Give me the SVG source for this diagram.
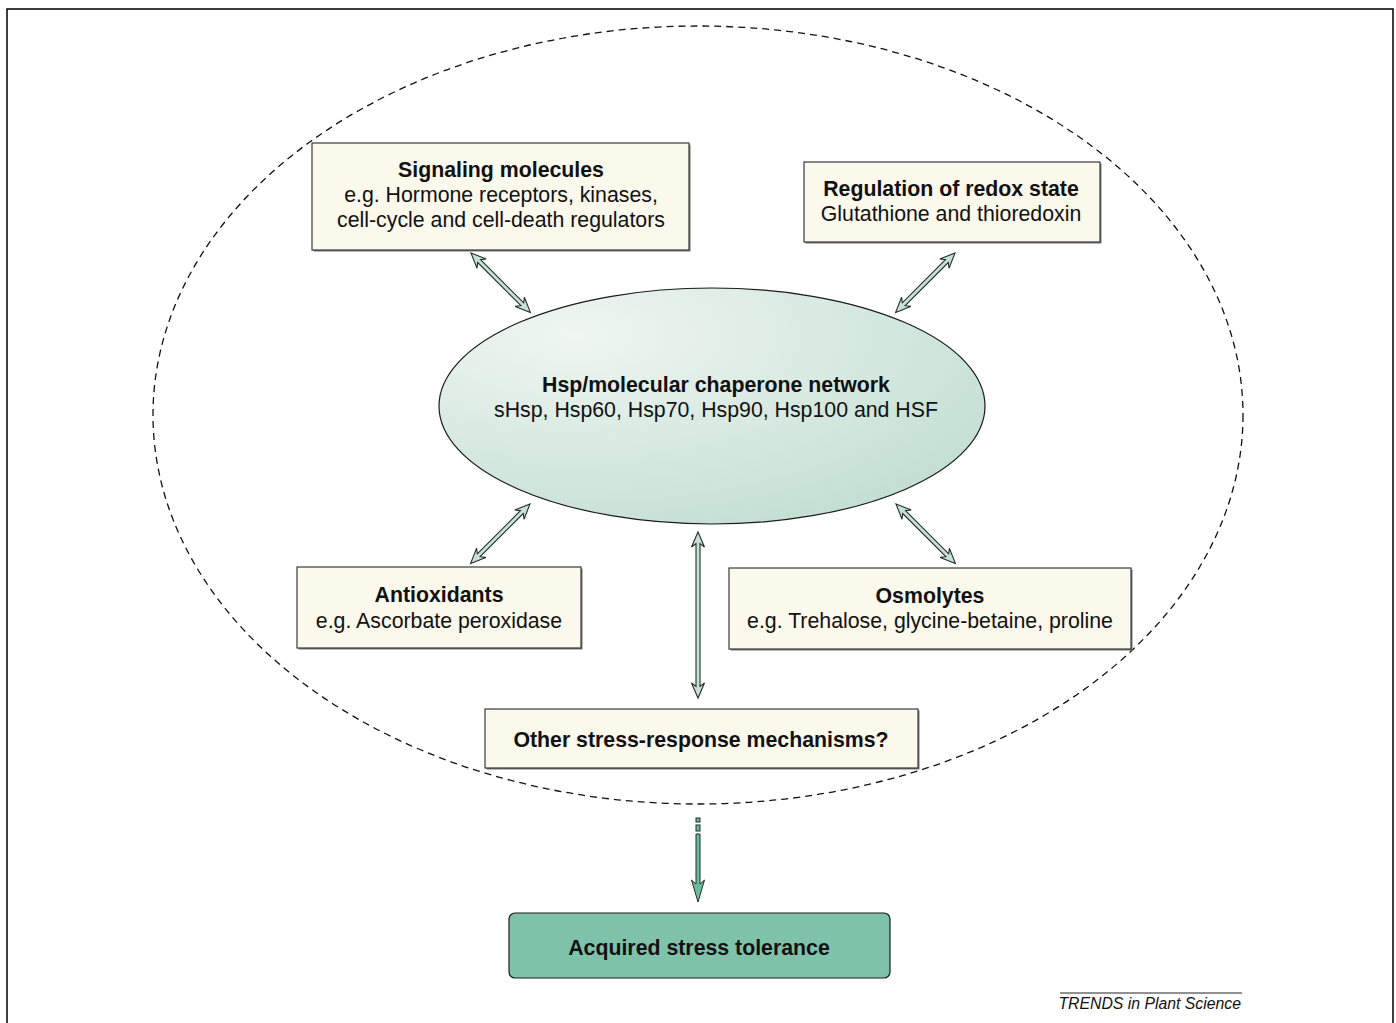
<svg xmlns="http://www.w3.org/2000/svg" xmlns:xlink="http://www.w3.org/1999/xlink" width="1396" height="1023" viewBox="0 0 1396 1023">
<style>
.box{fill:#fbf8ec;stroke:#3a3a3a;stroke-width:1.2}
.shadow{fill:#777}
.t{font-family:"Liberation Sans",Arial,sans-serif;font-size:21.3px;fill:#111;text-anchor:middle}
.b{font-weight:bold}
.arr{fill:#c9e1d5;stroke:#1f2f28;stroke-width:1.1;stroke-linejoin:miter}
</style>
<defs>
<radialGradient id="eg" cx="0.25" cy="0.2" r="0.9">
<stop offset="0" stop-color="#f0f6f2"/>
<stop offset="1" stop-color="#c3dfd2"/>
</radialGradient>
<path id="dbl84" d="M0,0 L15,-6.5 L11.5,-2 L72.5,-2 L69,-6.5 L84,0 L69,6.5 L72.5,2 L11.5,2 L15,6.5 Z"/>
</defs>
<rect width="1396" height="1023" fill="#fff"/>
<polyline points="7,1023 7,9 1393,9 1393,1023" fill="none" stroke="#000" stroke-width="1.5"/>
<ellipse id="boundary" cx="698" cy="415" rx="545" ry="389" fill="none" stroke="#111" stroke-width="1.3" stroke-dasharray="7,5"/>

<g id="connectors">
<use xlink:href="#dbl84" class="arr" transform="translate(471,253) rotate(45)"/>
<use xlink:href="#dbl84" class="arr" transform="translate(955,253) rotate(135)"/>
<use xlink:href="#dbl84" class="arr" transform="translate(530,504) rotate(135)"/>
<use xlink:href="#dbl84" class="arr" transform="translate(896,504) rotate(45)"/>
<path class="arr" d="M698,532 L704.5,547 L700,543.5 L700,686.5 L704.5,683 L698,698 L691.5,683 L696,686.5 L696,543.5 L691.5,547 Z"/>
<g fill="#6dbb9f" stroke="#1f2f28" stroke-width="1">
<rect x="696" y="818" width="4" height="4"/>
<rect x="696" y="825" width="4" height="6"/>
<path d="M696,834 L700,834 L700,884 L704.5,880 L698,902 L691.5,880 L696,884 Z"/>
</g>
</g>

<g id="hsp">
<ellipse cx="712" cy="406" rx="273" ry="118" fill="url(#eg)" stroke="#1a1a1a" stroke-width="1.2"/>
<text class="t b" x="716" y="392">Hsp/molecular chaperone network</text>
<text class="t" x="716" y="417">sHsp, Hsp60, Hsp70, Hsp90, Hsp100 and HSF</text>
</g>

<g id="signaling">
<rect class="shadow" x="313.5" y="144.5" width="377" height="107"/>
<rect class="box" x="312" y="143" width="377" height="107"/>
<text class="t b" x="501" y="177">Signaling molecules</text>
<text class="t" x="501" y="202">e.g. Hormone receptors, kinases,</text>
<text class="t" x="501" y="227">cell-cycle and cell-death regulators</text>
</g>

<g id="redox">
<rect class="shadow" x="805.5" y="163.5" width="296" height="80"/>
<rect class="box" x="804" y="162" width="296" height="80"/>
<text class="t b" x="951" y="196">Regulation of redox state</text>
<text class="t" x="951" y="221">Glutathione and thioredoxin</text>
</g>

<g id="antioxidants">
<rect class="shadow" x="298.5" y="568.5" width="284" height="81"/>
<rect class="box" x="297" y="567" width="284" height="81"/>
<text class="t b" x="439" y="602">Antioxidants</text>
<text class="t" x="439" y="628">e.g. Ascorbate peroxidase</text>
</g>

<g id="osmolytes">
<rect class="shadow" x="730.5" y="569.5" width="402" height="81"/>
<rect class="box" x="729" y="568" width="402" height="81"/>
<text class="t b" x="930" y="603">Osmolytes</text>
<text class="t" x="930" y="628">e.g. Trehalose, glycine-betaine, proline</text>
</g>

<g id="other">
<rect class="shadow" x="486.5" y="710.5" width="433" height="59"/>
<rect class="box" x="485" y="709" width="433" height="59"/>
<text class="t b" x="701" y="747">Other stress-response mechanisms?</text>
</g>

<g id="acquired">
<rect x="509" y="913" width="381" height="65" rx="6" fill="#7fc2aa" stroke="#1a1a1a" stroke-width="1.2"/>
<text class="t b" x="699" y="955">Acquired stress tolerance</text>
</g>

<g id="footer">
<line x1="1060" y1="993" x2="1242" y2="993" stroke="#222" stroke-width="1"/>
<text x="1241" y="1009" font-family="Liberation Sans,Arial,sans-serif" font-size="15.8" font-style="italic" text-anchor="end" fill="#111">TRENDS in Plant Science</text>
</g>
</svg>
